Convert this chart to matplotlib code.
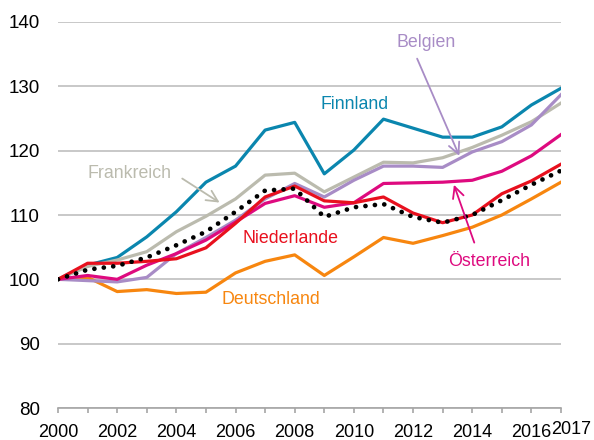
import numpy as np
import matplotlib
matplotlib.use("Agg")
import matplotlib.pyplot as plt
from matplotlib.transforms import ScaledTranslation

plt.rcParams['font.family'] = ['Liberation Sans', 'DejaVu Sans']

# data (index, 2000 = 100)
years = list(range(2000, 2018))
finnland = [100, 102.2, 103.4, 106.6, 110.5, 115.1, 117.6, 123.2, 124.4, 116.4,
            120.1, 124.9, 123.5, 122.1, 122.1, 123.7, 127.1, 129.7]
frankreich = [100, 102.0, 103.0, 104.3, 107.4, 109.8, 112.5, 116.2, 116.5, 113.6,
              115.9, 118.2, 118.1, 118.9, 120.5, 122.4, 124.5, 127.4]
belgien = [100, 99.8, 99.6, 100.3, 104.0, 106.5, 109.2, 112.5, 114.9, 112.8,
           115.4, 117.6, 117.6, 117.4, 119.8, 121.4, 124.0, 128.7]
oesterreich = [100, 100.6, 100.0, 102.2, 104.0, 106.1, 108.9, 111.8, 113.0, 111.2,
               111.9, 114.9, 115.0, 115.1, 115.4, 116.8, 119.2, 122.5]
niederlande = [100, 102.5, 102.5, 102.8, 103.2, 104.9, 108.7, 112.8, 114.5, 112.2,
               111.9, 112.8, 110.3, 108.8, 110.0, 113.3, 115.3, 117.9]
euroraum = [100, 101.5, 102.1, 103.4, 105.3, 107.4, 110.5, 113.8, 114.1, 109.7,
            111.2, 111.7, 109.7, 108.8, 110.0, 112.3, 114.7, 116.9]
deutschland = [100, 100.3, 98.1, 98.4, 97.8, 98.0, 101.0, 102.8, 103.8, 100.6,
               103.5, 106.5, 105.6, 106.8, 108.1, 110.0, 112.5, 115.1]

c_blue = '#0A86AE'
c_gray = '#BBBBAE'
c_purple = '#A88CC6'
c_magenta = '#DE0A7F'
c_red = '#E8101E'
c_orange = '#F7860F'

fig = plt.figure(figsize=(5.94, 4.40), dpi=100)
ax = fig.add_axes([58/594, 32/440, (561-58)/594, (408-22)/440])

lw = 2.3
ax.plot(years, deutschland, color=c_orange, lw=lw)
ax.plot(years, finnland, color=c_blue, lw=lw)
ax.plot(years, frankreich, color=c_gray, lw=lw)
ax.plot(years, belgien, color=c_purple, lw=lw)
ax.plot(years, oesterreich, color=c_magenta, lw=lw)
ax.plot(years, niederlande, color=c_red, lw=lw)
ax.plot(years, euroraum, color='black', lw=3.4, linestyle=(0, (0.01, 2.0)),
        dash_capstyle='round')

ax.set_xlim(2000, 2017)
ax.set_ylim(80, 140)
ax.set_yticks(range(80, 141, 10))
ax.yaxis.grid(True, color='#BFBFBF', lw=1.2)
ax.set_axisbelow(True)
for s in ['left', 'top', 'right']:
    ax.spines[s].set_visible(False)
ax.spines['bottom'].set_color('#A6A6A6')
ax.spines['bottom'].set_linewidth(1.2)

ax.set_xticks(list(range(2000, 2017, 2)) + [2017])
ax.set_xticks(range(2000, 2018), minor=True)
ax.tick_params(axis='x', which='both', direction='out', length=3.5, width=1.2,
               color='#A6A6A6', pad=8, labelsize=13)
ax.tick_params(axis='y', length=0, pad=13, labelsize=13.5)
lab = ax.get_xticklabels()[-1]
lab.set_transform(lab.get_transform() + ScaledTranslation(10/100, 3/100, fig.dpi_scale_trans))

fs = 12.8
ax.text(2010.03, 127.1, 'Finnland', color=c_blue, fontsize=fs, ha='center', va='center')
ax.text(2012.45, 136.8, 'Belgien', color=c_purple, fontsize=fs, ha='center', va='center')
ax.text(2002.43, 116.4, 'Frankreich', color=c_gray, fontsize=fs, ha='center', va='center')
ax.text(2007.85, 106.4, 'Niederlande', color=c_red, fontsize=fs, ha='center', va='center')
ax.text(2007.21, 96.8, 'Deutschland', color=c_orange, fontsize=fs, ha='center', va='center')
ax.text(2014.57, 102.7, 'Österreich', color=c_magenta, fontsize=fs, ha='center', va='center')

arrow = dict(arrowstyle='->,head_length=0.8,head_width=0.4', lw=1.3)
ax.annotate('', xy=(2005.54, 111.7), xytext=(2004.12, 115.9),
            arrowprops=dict(arrow, color=c_gray))
ax.annotate('', xy=(2013.6, 118.8), xytext=(2012.1, 134.7),
            arrowprops=dict(arrow, color=c_purple))
ax.annotate('', xy=(2013.35, 115.1), xytext=(2014.1, 105.3),
            arrowprops=dict(arrow, color=c_magenta))

fig.savefig('out.png', dpi=100)
